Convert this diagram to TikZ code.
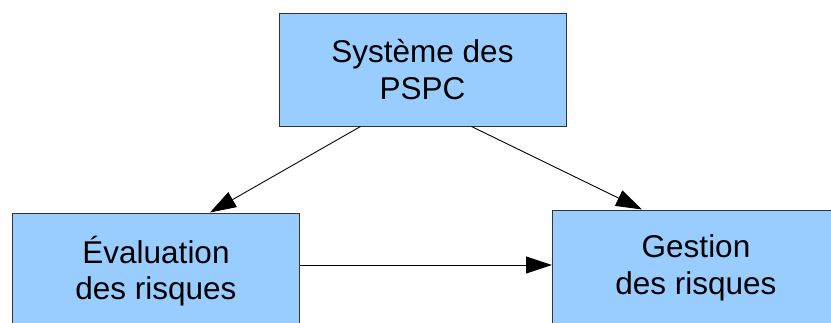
\documentclass[tikz,border=0pt]{standalone}
\usepackage{fontspec}
\setmainfont{Liberation Sans}
\usetikzlibrary{arrows.meta}
\definecolor{bleuboite}{HTML}{99CCFF}
\definecolor{bordboite}{HTML}{333333}

\begin{document}
\begin{tikzpicture}[x=1pt, y=-1pt,
    boite/.style={draw=bordboite, line width=1pt, fill=bleuboite, minimum width=287pt, minimum height=116pt, align=center, inner sep=0pt, font=\fontsize{31.5}{36.5}\selectfont},
    fleche/.style={line width=0.9pt, -{Triangle[length=26pt, width=17pt]}}]
    \useasboundingbox (0, 0) rectangle (831, 322);
    \clip (0, 0) rectangle (831, 322);
    \node[boite, minimum height=113pt] (sys) at (422.5, 69.5) {Système des\\PSPC};
\node[boite] (eval) at (156, 271) {Évaluation\\des risques};
\node[boite] (gest) at (696, 268) {Gestion\\des risques};
\draw[fleche] ([xshift=-62pt]sys.south) -- ([xshift=54pt]eval.north);
\draw[fleche] ([xshift=49pt]sys.south) -- ([xshift=-54pt]gest.north);
\draw[fleche] ([yshift=6pt]eval.east) -- ([yshift=3pt]gest.west);
    \end{tikzpicture}
\end{document}
